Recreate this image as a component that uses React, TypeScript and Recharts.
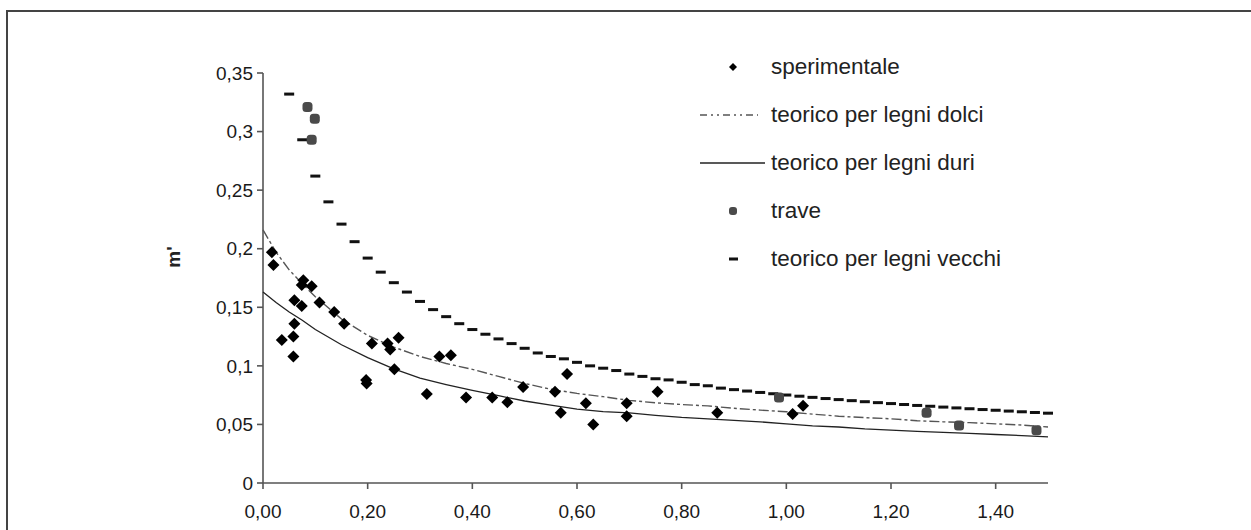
import { ScatterChart, Scatter, XAxis, YAxis, Legend } from 'recharts';

// sperimentale (diamonds)
const sperX = [0.017, 0.02, 0.036, 0.058, 0.058, 0.06, 0.06, 0.074, 0.074, 0.077, 0.093, 0.108, 0.136, 0.155, 0.197, 0.198, 0.208, 0.238, 0.243, 0.251, 0.259, 0.313, 0.337, 0.359, 0.388, 0.438, 0.467, 0.497, 0.558, 0.569, 0.581, 0.617, 0.631, 0.695, 0.695, 0.754, 0.868, 1.012, 1.032];
const sperY = [0.197, 0.186, 0.122, 0.125, 0.108, 0.136, 0.156, 0.151, 0.169, 0.173, 0.168, 0.154, 0.146, 0.136, 0.088, 0.085, 0.119, 0.119, 0.114, 0.097, 0.124, 0.076, 0.108, 0.109, 0.073, 0.073, 0.069, 0.082, 0.078, 0.06, 0.093, 0.068, 0.05, 0.068, 0.057, 0.078, 0.06, 0.059, 0.066];

// trave (grey dots)
const traveX = [0.085, 0.099, 0.093, 0.986, 1.268, 1.33, 1.478];
const traveY = [0.321, 0.311, 0.293, 0.073, 0.06, 0.049, 0.045];

// theoretical curves for soft / hard wood
const curveX = [0, 0.025, 0.05, 0.075, 0.1, 0.15, 0.2, 0.25, 0.3, 0.35, 0.4, 0.45, 0.5, 0.55, 0.6, 0.65, 0.7, 0.75, 0.8, 0.85, 0.9, 0.95, 1.0, 1.05, 1.1, 1.15, 1.2, 1.25, 1.3, 1.35, 1.4, 1.45, 1.5];
const dolciY = [0.216, 0.197, 0.182, 0.17, 0.159, 0.14, 0.126, 0.116, 0.108, 0.102, 0.097, 0.091, 0.085, 0.08, 0.0765, 0.0737, 0.0705, 0.0685, 0.067, 0.0658, 0.0638, 0.0622, 0.0608, 0.0588, 0.057, 0.0558, 0.0548, 0.0532, 0.0522, 0.0515, 0.0505, 0.0495, 0.0478];
const duriY = [0.163, 0.154, 0.146, 0.139, 0.131, 0.118, 0.107, 0.0975, 0.0895, 0.084, 0.079, 0.0745, 0.07, 0.0665, 0.063, 0.061, 0.0598, 0.0578, 0.056, 0.0548, 0.0535, 0.0522, 0.0505, 0.0488, 0.0478, 0.0462, 0.0452, 0.044, 0.0432, 0.0424, 0.0414, 0.0405, 0.0394];

// old wood (dash markers)
const vecchiX = [0.05, 0.075, 0.1, 0.125, 0.15, 0.175, 0.2, 0.225, 0.25, 0.275, 0.3, 0.325, 0.35, 0.375, 0.4, 0.425, 0.45, 0.475, 0.5, 0.525, 0.55, 0.575, 0.6, 0.625, 0.65, 0.675, 0.7, 0.725, 0.75, 0.775, 0.8, 0.825, 0.85, 0.875, 0.9, 0.925, 0.95, 0.975, 1.0, 1.025, 1.05, 1.075, 1.1, 1.125, 1.15, 1.175, 1.2, 1.225, 1.25, 1.275, 1.3, 1.325, 1.35, 1.375, 1.4, 1.425, 1.45, 1.475, 1.5];
const vecchiY = [0.332, 0.293, 0.262, 0.24, 0.221, 0.206, 0.192, 0.18, 0.171, 0.163, 0.155, 0.148, 0.142, 0.136, 0.131, 0.127, 0.123, 0.119, 0.115, 0.111, 0.108, 0.106, 0.103, 0.1, 0.098, 0.096, 0.093, 0.091, 0.089, 0.088, 0.086, 0.084, 0.083, 0.081, 0.0797, 0.0785, 0.0773, 0.0762, 0.0751, 0.0741, 0.0731, 0.0721, 0.0712, 0.0703, 0.0694, 0.0686, 0.0678, 0.067, 0.0662, 0.0655, 0.0648, 0.0641, 0.0634, 0.0627, 0.0621, 0.0614, 0.0608, 0.0602, 0.0596];

const xTicks = [0, 0.2, 0.4, 0.6, 0.8, 1.0, 1.2, 1.4];
const yTicks = [0, 0.05, 0.1, 0.15, 0.2, 0.25, 0.3, 0.35];
const seriesNames = ['sperimentale', 'teorico per legni dolci', 'teorico per legni duri', 'trave', 'teorico per legni vecchi'];

const zip = (xs: number[], ys: number[]) => xs.map((x, i) => ({ x, y: ys[i] }));
const sperData = zip(sperX, sperY);
const traveData = zip(traveX, traveY);
const dolciData = zip(curveX, dolciY);
const duriData = zip(curveX, duriY);
const vecchiData = zip(vecchiX, vecchiY);

const FONT = '"Liberation Sans", Arial, sans-serif';

const Diamond = ({ cx, cy }: any) => (
  <polygon points={`${cx},${cy - 6} ${cx + 6},${cy} ${cx},${cy + 6} ${cx - 6},${cy}`} fill="#000" />
);
const Dot = ({ cx, cy }: any) => <rect x={cx - 5} y={cy - 5} width={10} height={10} rx={3.5} fill="#4a4a4a" />;
const Dash = ({ cx, cy }: any) => <rect x={cx - 5} y={cy - 1.5} width={10} height={3} fill="#111" />;
const NoShape = () => <g />;

const legendMarker = (i: number) => {
  switch (i) {
    case 0:
      return <polygon points="33,4 37,8 33,12 29,8" fill="#000" />;
    case 1:
      return <line x1={0} y1={8} x2={58} y2={8} stroke="#555" strokeWidth={1.3} strokeDasharray="7 4 2 4 2 4" />;
    case 2:
      return <line x1={0} y1={8} x2={65} y2={8} stroke="#222" strokeWidth={1.3} />;
    case 3:
      return <rect x={29} y={4} width={8} height={8} rx={3} fill="#4a4a4a" />;
    default:
      return <rect x={29} y={6.5} width={9} height={3} fill="#111" />;
  }
};

const renderLegend = () => (
  <div style={{ fontFamily: FONT }}>
    {seriesNames.map((name, i) => (
      <div key={name} style={{ display: 'flex', alignItems: 'center', height: 48 }}>
        <svg width={71} height={16} style={{ flex: 'none' }}>
          {legendMarker(i)}
        </svg>
        <span style={{ fontSize: 22.5, color: '#222', whiteSpace: 'nowrap' }}>{name}</span>
      </div>
    ))}
  </div>
);

const YLabel = () => (
  <text x={180} y={257} transform="rotate(-90 180 257)" textAnchor="middle" fontFamily={FONT} fontSize={19} fontWeight="bold" fill="#222">
    m'
  </text>
);

export default function App() {
  return (
    <div style={{ position: 'absolute', left: 0, top: 0, width: 1251, height: 530, background: '#fff', overflow: 'hidden' }}>
      <div style={{ position: 'absolute', left: 6, top: 10, right: 0, bottom: 0, borderTop: '2px solid #444', borderLeft: '2px solid #444' }} />
      <div style={{ position: 'absolute', left: 0, top: 0 }}>
        <ScatterChart width={1251} height={530} margin={{ top: 73, right: 203, bottom: 7, left: 203 }}>
          <XAxis
            type="number"
            dataKey="x"
            domain={[0, 1.5]}
            ticks={xTicks}
            tickFormatter={(v: number) => v.toFixed(2).replace('.', ',')}
            height={40}
            tickSize={6}
            tickMargin={16}
            stroke="#555"
            strokeWidth={1.6}
            tick={{ fill: '#1a1a1a', fontSize: 19, fontFamily: FONT }}
          />
          <YAxis
            type="number"
            dataKey="y"
            domain={[0, 0.35]}
            ticks={yTicks}
            tickFormatter={(v: number) => String(v).replace('.', ',')}
            width={60}
            tickSize={6}
            tickMargin={4}
            stroke="#555"
            strokeWidth={1.6}
            tick={{ fill: '#1a1a1a', fontSize: 19, fontFamily: FONT }}
            label={<YLabel />}
          />
          <Legend
            layout="vertical"
            align="center"
            verticalAlign="middle"
            content={renderLegend}
            wrapperStyle={{ left: 700, top: 43, width: 420 }}
          />
          <Scatter name="teorico per legni dolci" data={dolciData} shape={NoShape} line={{ stroke: '#555', strokeWidth: 1.4, strokeDasharray: '10 3 3 3' }} isAnimationActive={false} />
          <Scatter name="teorico per legni duri" data={duriData} shape={NoShape} line={{ stroke: '#222', strokeWidth: 1.3 }} isAnimationActive={false} />
          <Scatter name="teorico per legni vecchi" data={vecchiData} shape={Dash} isAnimationActive={false} />
          <Scatter name="sperimentale" data={sperData} shape={Diamond} isAnimationActive={false} />
          <Scatter name="trave" data={traveData} shape={Dot} isAnimationActive={false} />
        </ScatterChart>
      </div>
    </div>
  );
}
